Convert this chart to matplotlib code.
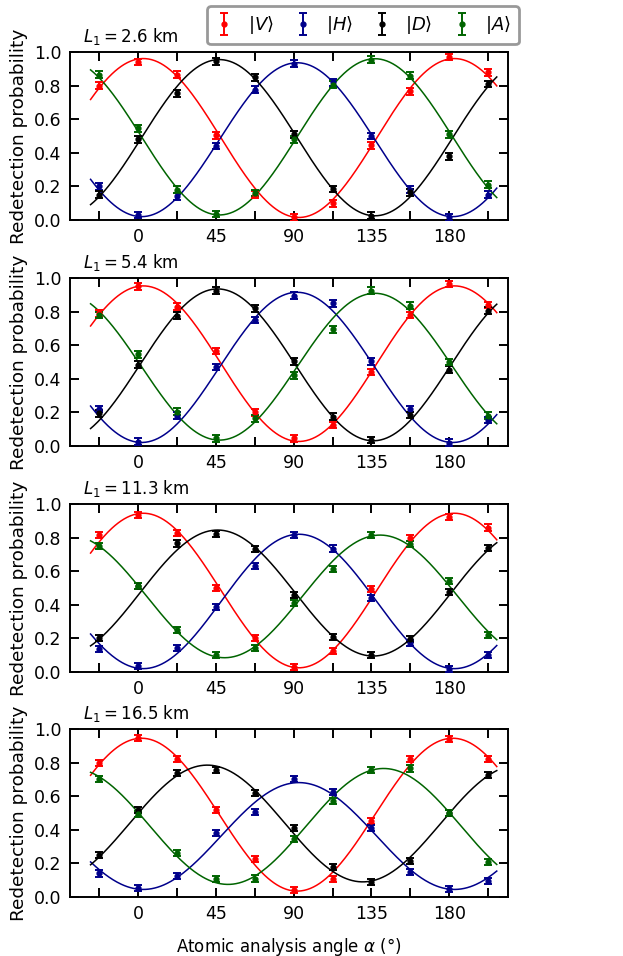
import matplotlib
matplotlib.use("Agg")
import matplotlib.pyplot as plt
from matplotlib.legend_handler import HandlerErrorbar
import numpy as np

# ── data ─────────────────────────────────────────────────────────────────
ANGLES = [-22.5, 0, 22.5, 45, 67.5, 90, 112.5, 135, 157.5, 180, 202.5]
DISTANCES = ["2.6", "5.4", "11.3", "16.5"]
STATES = ["V", "H", "D", "A"]

# measured redetection probabilities, one list per state per panel
V_26 = [0.80, 0.94, 0.865, 0.505, 0.15, 0.015, 0.10, 0.445, 0.765, 0.97, 0.88]
H_26 = [0.20, 0.03, 0.14, 0.44, 0.775, 0.93, 0.82, 0.50, 0.18, 0.015, 0.15]
D_26 = [0.15, 0.48, 0.755, 0.945, 0.85, 0.51, 0.185, 0.025, 0.165, 0.38, 0.81]
A_26 = [0.865, 0.545, 0.18, 0.035, 0.16, 0.48, 0.805, 0.955, 0.86, 0.51, 0.21]

V_54 = [0.79, 0.95, 0.83, 0.565, 0.20, 0.045, 0.125, 0.44, 0.78, 0.965, 0.84]
H_54 = [0.22, 0.025, 0.18, 0.47, 0.75, 0.895, 0.85, 0.505, 0.22, 0.02, 0.155]
D_54 = [0.195, 0.485, 0.775, 0.925, 0.82, 0.505, 0.175, 0.035, 0.185, 0.455, 0.805]
A_54 = [0.78, 0.545, 0.205, 0.045, 0.165, 0.42, 0.695, 0.925, 0.835, 0.50, 0.18]

V_113 = [0.815, 0.935, 0.83, 0.50, 0.205, 0.03, 0.125, 0.495, 0.80, 0.92, 0.86]
H_113 = [0.135, 0.035, 0.145, 0.385, 0.63, 0.815, 0.735, 0.44, 0.17, 0.02, 0.10]
D_113 = [0.205, 0.51, 0.765, 0.82, 0.73, 0.46, 0.21, 0.10, 0.195, 0.475, 0.74]
A_113 = [0.75, 0.51, 0.25, 0.10, 0.145, 0.41, 0.615, 0.815, 0.76, 0.54, 0.22]

V_165 = [0.80, 0.945, 0.82, 0.52, 0.225, 0.04, 0.105, 0.45, 0.82, 0.94, 0.82]
H_165 = [0.14, 0.055, 0.125, 0.38, 0.505, 0.705, 0.625, 0.41, 0.15, 0.05, 0.095]
D_165 = [0.25, 0.52, 0.74, 0.755, 0.62, 0.41, 0.18, 0.09, 0.215, 0.50, 0.725]
A_165 = [0.70, 0.495, 0.26, 0.105, 0.11, 0.345, 0.57, 0.755, 0.765, 0.50, 0.21]

# error bar half-width per panel
ERRS = [0.02, 0.02, 0.018, 0.018]

# fit parameters: offset, amplitude, phase (deg) per state per panel
FIT_OFFSET = [[0.488, 0.478, 0.490, 0.495],
              [0.490, 0.468, 0.483, 0.472],
              [0.485, 0.420, 0.470, 0.450],
              [0.490, 0.363, 0.4375, 0.420]]
FIT_AMP = [[0.473, 0.458, 0.465, 0.465],
           [0.463, 0.447, 0.452, 0.437],
           [0.460, 0.400, 0.375, 0.365],
           [0.455, 0.318, 0.3475, 0.345]]
FIT_PHASE = [[3, 92, 47, 137],
             [3, 92, 46, 137],
             [3, 93, 46, 140],
             [2, 93, 40, 142]]

DATA = [
    [V_26, H_26, D_26, A_26],
    [V_54, H_54, D_54, A_54],
    [V_113, H_113, D_113, A_113],
    [V_165, H_165, D_165, A_165],
]

COLORS = ["#ff0000", "#00008b", "#000000", "#006400"]
LABELS = [r"$|V\rangle$", r"$|H\rangle$", r"$|D\rangle$", r"$|A\rangle$"]

FS = 12

plt.rcParams["font.family"] = "DejaVu Sans"
plt.rcParams["mathtext.fontset"] = "dejavusans"

fig = plt.figure(figsize=(6.23, 9.56), dpi=100)

left, width, height = 70 / 623, 438 / 623, 168 / 956
bottoms = [1 - 220 / 956, 1 - 446 / 956, 1 - 672 / 956, 1 - 897 / 956]

alpha_fit = np.linspace(-27.5, 207.5, 400)
handles = []

for p, (dist, panel) in enumerate(zip(DISTANCES, DATA)):
    ax = fig.add_axes([left, bottoms[p], width, height])
    for s in range(4):
        c0 = FIT_OFFSET[p][s]
        a0 = FIT_AMP[p][s]
        ph = FIT_PHASE[p][s]
        fit = c0 + a0 * np.cos(np.radians(2 * (alpha_fit - ph)))
        ax.plot(alpha_fit, fit, "-", color=COLORS[s], lw=1.1, zorder=2)
        h = ax.errorbar(ANGLES, panel[s], yerr=ERRS[p], fmt=".",
                        color=COLORS[s], ms=7, capsize=2.6, elinewidth=1.4,
                        capthick=1.4, label=LABELS[s], zorder=3)
        if p == 0:
            handles.append(h)

    ax.set_xlim(-39.4, 214)
    ax.set_ylim(0, 1)
    ax.set_xticks([0, 45, 90, 135, 180])
    ax.set_xticks([-22.5, 22.5, 67.5, 112.5, 157.5, 202.5], minor=True)
    ax.set_yticks([0, 0.2, 0.4, 0.6, 0.8, 1.0])
    ax.tick_params(which="both", direction="in", top=True, right=True,
                   length=6.5, width=1.4, labelsize=12.5, pad=6)
    for sp in ax.spines.values():
        sp.set_linewidth(1.4)
    ax.set_ylabel("Redetection probability", fontsize=13.3, labelpad=4)
    ax.text(0.03, 1.03, rf"$L_1 = ${dist} km", transform=ax.transAxes,
            fontsize=FS, ha="left", va="bottom")

    if p == 3:
        ax.set_xlabel(r"Atomic analysis angle $\alpha$ (°)", fontsize=FS,
                      labelpad=9)

leg = fig.legend(handles=handles, loc="upper right", ncol=4,
                 bbox_to_anchor=(519 / 623, 1 - 6 / 956), borderaxespad=0,
                 fontsize=13, frameon=True, fancybox=True, handlelength=1.0,
                 columnspacing=1.1, handletextpad=0.8, borderpad=0.45,
                 handler_map={type(handles[0]): HandlerErrorbar(yerr_size=0.6)})
leg.get_frame().set_edgecolor("#808080")
leg.get_frame().set_linewidth(2.0)

fig.savefig("out.png", dpi=100)
